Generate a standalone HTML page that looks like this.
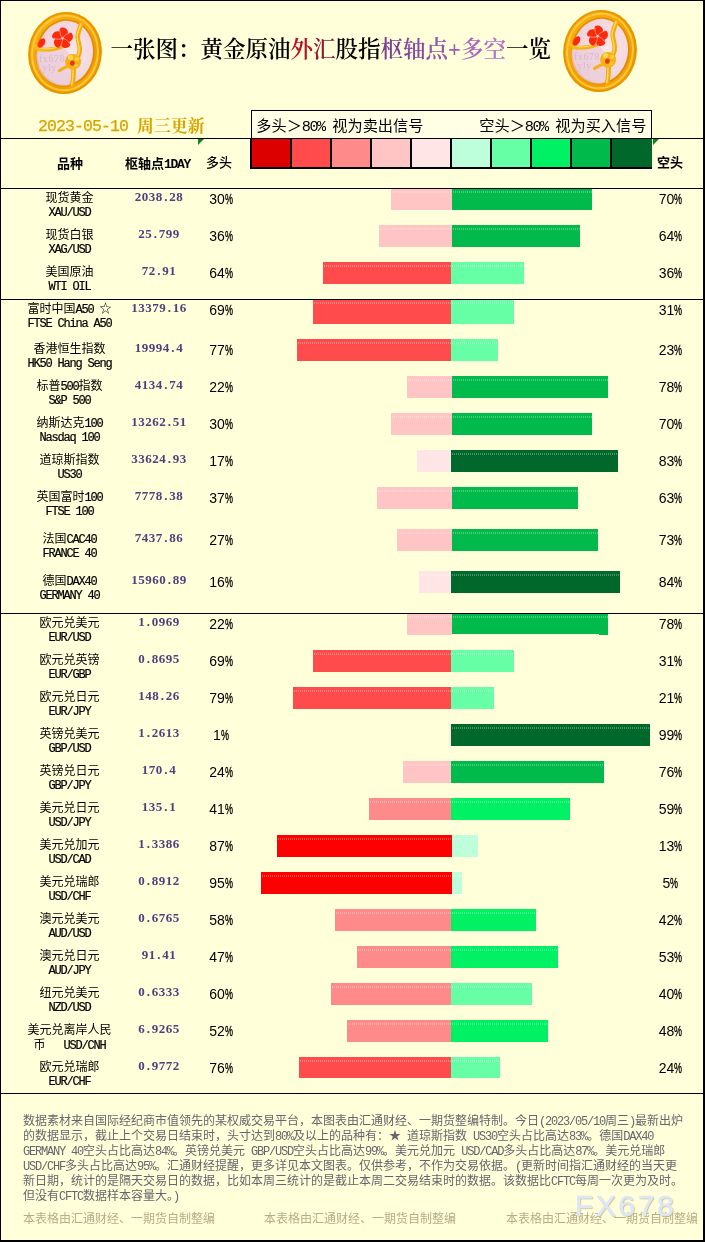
<!DOCTYPE html>
<html lang="zh-CN">
<head>
<meta charset="utf-8">
<title>一张图：黄金原油外汇股指枢轴点+多空一览</title>
<style>
html,body{margin:0;padding:0;}
body{width:705px;height:1242px;overflow:hidden;background:#FFFFD9;position:relative;
 font-family:"Liberation Sans","Noto Sans CJK SC",sans-serif;color:#000;}
#page{position:absolute;left:0;top:0;width:705px;height:1242px;overflow:hidden;background:#FFFFD9;}
#frame{position:absolute;left:0;top:0;width:702px;height:1239px;border-left:1px solid #000;border-top:1px solid #000;border-right:2px solid #000;border-bottom:2px solid #000;box-sizing:content-box;}
.hl{position:absolute;left:0;width:704px;height:1px;background:#000;z-index:3;}
.a{font-family:"Liberation Mono",monospace;letter-spacing:-0.1em;}
.bar,.nb{position:absolute;}
.bar::after{content:"";position:absolute;left:1px;right:0;top:3px;height:2px;
 background-image:repeating-linear-gradient(90deg,rgba(255,255,255,.28) 0 1px,transparent 1px 2px);}
.cn,.en,.pv,.pl,.pr,.hd,.nl{position:absolute;white-space:nowrap;text-align:center;}
.cn{left:-1px;width:141px;font-size:12px;line-height:14px;}
.en{left:-1px;width:141px;white-space:pre;font-size:12px;line-height:12px;}
.cn .a,.en .a{-webkit-text-stroke:0.2px #000;}
.pv{left:109px;width:100px;font-size:13px;line-height:14px;font-weight:bold;color:#50407E;font-family:"Liberation Serif",serif;letter-spacing:0.5px;}
.pv u{display:inline-block;width:6.5px;text-align:center;text-decoration:none;}
.pl{left:190px;width:62px;font-size:14px;line-height:16px;}
.pr{left:639.5px;width:62px;font-size:14px;line-height:16px;}
.pc{display:inline-block;width:8px;text-align:left;}
.pc i{display:inline-block;font-style:normal;transform:scaleX(.64);transform-origin:0 50%;-webkit-text-stroke:0.35px #000;}
.hd{font-weight:bold;font-size:13px;line-height:14px;}
.hd .a{font-family:"Liberation Mono",monospace;letter-spacing:-1.3px;font-size:13px;}
#sws{position:absolute;left:250px;top:139px;width:402px;height:30px;background:#000;}
#sws i{position:absolute;top:0;height:28px;display:block;}
.tri{position:absolute;top:139px;width:0;height:0;border-top:6px solid #0B8A10;border-right:6px solid transparent;}
#legend{position:absolute;left:251px;top:110px;width:399px;height:27px;background:#FFFFE6;border:1px solid #000;border-bottom:none;box-sizing:content-box;}
#legend span.t{position:absolute;top:6px;font-size:15.2px;line-height:18px;white-space:nowrap;}
#title{position:absolute;left:110.5px;top:35px;white-space:nowrap;font-family:"Liberation Serif","Noto Serif CJK SC",serif;font-weight:600;font-size:22.5px;line-height:30px;}
#date{position:absolute;left:38px;top:117px;white-space:nowrap;color:#D9A300;font-family:"Liberation Mono","Noto Serif CJK SC",monospace;font-size:16.9px;line-height:20px;font-weight:500;}
#date .a{font-size:16.5px;letter-spacing:-0.9px;font-weight:400;-webkit-text-stroke:0.25px #D9A300;}
#date b{font-weight:700;position:relative;top:0.5px;}
.nl{left:23px;text-align:left;font-size:12px;line-height:15px;color:#66666E;}
.ft{position:absolute;top:1212px;font-size:12px;line-height:14px;color:#B9AC85;white-space:nowrap;}
#wm{position:absolute;left:574.8px;top:1190px;font-size:30.2px;line-height:32px;letter-spacing:2.5px;-webkit-text-stroke:0.5px #DCE7F7;color:#DCE7F7;font-family:"Liberation Sans",sans-serif;text-shadow:1px 1px 1px rgba(190,160,110,.7);white-space:nowrap;}
.medal{position:absolute;}
</style>
</head>
<body>
<div id="page">
<svg class="medal" style="left:19.5px;top:4.5px" width="90" height="96" viewBox="-45 -48 90 96">
<defs>
<radialGradient id="mga" cx="0.62" cy="0.45" r="0.7"><stop offset="0" stop-color="#F8E6E9"/><stop offset="0.55" stop-color="#F4D9DF"/><stop offset="1" stop-color="#EECCD6"/></radialGradient>
<linearGradient id="rga" x1="0" y1="0" x2="1" y2="1"><stop offset="0" stop-color="#FAB61C"/><stop offset="0.35" stop-color="#F5A60A"/><stop offset="0.7" stop-color="#F09C02"/><stop offset="1" stop-color="#F8B218"/></linearGradient>
<filter id="bla" x="-10%" y="-10%" width="120%" height="120%"><feGaussianBlur stdDeviation="0.6"/></filter>
</defs>
<g filter="url(#bla)">
<ellipse cx="0" cy="0" rx="36.8" ry="41.2" fill="url(#rga)" transform="rotate(9)"/>
<ellipse cx="0" cy="0" rx="35.6" ry="40" fill="none" stroke="#E48E00" stroke-width="1.6" transform="rotate(9)" opacity=".8"/>
<ellipse cx="0" cy="0" rx="32.8" ry="37.4" fill="none" stroke="#FFCE3C" stroke-width="2" transform="rotate(9)" opacity=".85"/>
<ellipse cx="0.3" cy="0" rx="29.4" ry="33.8" fill="#E48C00" transform="rotate(9)"/>
<ellipse cx="0.3" cy="-0.3" rx="27.6" ry="32" fill="url(#mga)" transform="rotate(9)"/>
<path d="M-28,-3 C-20,-1.5 -10,-3 -3,-6 C2,-3 6,2 8,8 C9,16 9,24 7,31 C-4,36 -20,30 -26,16 C-29,8 -29,2 -28,-3 Z" fill="#E9CEDB" opacity=".75"/>
<path d="M16.5,-30 C15,-24 12,-20 12.8,-14.5 C13.6,-9 15.6,-6 14.6,-1 C13.6,4 10,8 9,14 C8,20 9,26 7,32" fill="none" stroke="#F4AA0A" stroke-width="4.6" stroke-linecap="round"/>
<path d="M16,-29.5 C14.5,-24 11.4,-20 12.2,-14.5 C13,-9 15,-6 14,-1 C13,4 9.4,8 8.4,14 C7.4,20 8.4,26 6.6,31.5" fill="none" stroke="#FFD84C" stroke-width="1.5" stroke-linecap="round"/>
<path d="M-27,-4.4 C-20,-2.4 -11,-3.6 -3,-6.4" fill="none" stroke="#F6B012" stroke-width="3.8" stroke-linecap="round"/>
<path d="M-26,-5 C-19,-3.4 -11,-4.4 -4,-7" fill="none" stroke="#FFDC5A" stroke-width="1.1" stroke-linecap="round"/>
<path d="M-5.5,17.5 C-1,14.5 3,13 8,11" fill="none" stroke="#F6B012" stroke-width="3.2" stroke-linecap="round"/>
<path d="M8.6,8.4 m-8.4,0.5 c0,-4 3,-7.5 6.8,-7.9 c4.4,-0.6 8.8,2.4 9,7 c0.3,4.4 -2.6,8.2 -7,8.6 c-4.6,0.4 -8.6,-3 -8.8,-7.7 z" fill="#F7B214"/>
<circle cx="5.6" cy="4.6" r="2.6" fill="#FFD94E"/>
<circle cx="12" cy="6" r="2.1" fill="#FFD040"/>
<circle cx="11" cy="12.4" r="1.8" fill="#FFCB36"/>
<ellipse cx="7.4" cy="10.2" rx="2.3" ry="2.6" fill="#F03414"/>
<circle cx="-2.5" cy="-14.7" r="8.6" fill="#FBE4E0" opacity=".7"/>
<g transform="translate(-2.5,-14.7)" fill="#FB2A0C"><path d="M0,-0.6 C-3.4,-3 -5.6,-6.4 -3.6,-9.8 C-1.2,-11.6 3.6,-10.6 4.6,-6.6 C4.8,-4 2.6,-1.6 0,-0.6 Z" transform="rotate(8)"/><path d="M0,-0.6 C-3.4,-3 -5.6,-6.4 -3.6,-9.8 C-1.2,-11.6 3.6,-10.6 4.6,-6.6 C4.8,-4 2.6,-1.6 0,-0.6 Z" transform="rotate(80)"/><path d="M0,-0.6 C-3.4,-3 -5.6,-6.4 -3.6,-9.8 C-1.2,-11.6 3.6,-10.6 4.6,-6.6 C4.8,-4 2.6,-1.6 0,-0.6 Z" transform="rotate(152)"/><path d="M0,-0.6 C-3.4,-3 -5.6,-6.4 -3.6,-9.8 C-1.2,-11.6 3.6,-10.6 4.6,-6.6 C4.8,-4 2.6,-1.6 0,-0.6 Z" transform="rotate(224)"/><path d="M0,-0.6 C-3.4,-3 -5.6,-6.4 -3.6,-9.8 C-1.2,-11.6 3.6,-10.6 4.6,-6.6 C4.8,-4 2.6,-1.6 0,-0.6 Z" transform="rotate(296)"/><g fill="none" stroke="#FFD2C4" stroke-width="0.7" opacity=".8"><path d="M0,0 C1.6,-3 4.6,-4.6 7.4,-5.4"/><path d="M0,0 C3.4,0.6 5.8,3 7.4,5.6"/><path d="M0,0 C0.4,3.4 -1.2,6.4 -3,8.8"/><path d="M0,0 C-3,1.6 -6.4,1 -9,-0.2"/><path d="M0,0 C-2.2,-2.6 -2.8,-6 -2.6,-9"/></g><circle cx="0" cy="0" r="1.2" fill="#FFC8B8"/></g>
<path d="M-29.6,-8.6 C-29.4,-3.6 -26,-1.6 -21.6,-3" fill="none" stroke="#F9B81A" stroke-width="2.6"/>
<ellipse cx="-23.4" cy="-10" rx="3.1" ry="5.2" fill="#FB2A0C" transform="rotate(30 -23.4 -10)"/>
</g>
<text x="-26" y="9" font-family="Liberation Serif, serif" font-size="9.6" letter-spacing="0.7" fill="#D9B0C4" opacity=".8">fx678</text>
<text x="-22.5" y="18.4" font-family="Liberation Serif, serif" font-size="9.6" letter-spacing="0.7" fill="#D9B0C4" opacity=".8">yly</text>
</svg>
<svg class="medal" style="left:554.5px;top:3px" width="90" height="96" viewBox="-45 -48 90 96">
<defs>
<radialGradient id="mgb" cx="0.62" cy="0.45" r="0.7"><stop offset="0" stop-color="#F8E6E9"/><stop offset="0.55" stop-color="#F4D9DF"/><stop offset="1" stop-color="#EECCD6"/></radialGradient>
<linearGradient id="rgb" x1="0" y1="0" x2="1" y2="1"><stop offset="0" stop-color="#FAB61C"/><stop offset="0.35" stop-color="#F5A60A"/><stop offset="0.7" stop-color="#F09C02"/><stop offset="1" stop-color="#F8B218"/></linearGradient>
<filter id="blb" x="-10%" y="-10%" width="120%" height="120%"><feGaussianBlur stdDeviation="0.6"/></filter>
</defs>
<g filter="url(#blb)">
<ellipse cx="0" cy="0" rx="36.8" ry="41.2" fill="url(#rgb)" transform="rotate(9)"/>
<ellipse cx="0" cy="0" rx="35.6" ry="40" fill="none" stroke="#E48E00" stroke-width="1.6" transform="rotate(9)" opacity=".8"/>
<ellipse cx="0" cy="0" rx="32.8" ry="37.4" fill="none" stroke="#FFCE3C" stroke-width="2" transform="rotate(9)" opacity=".85"/>
<ellipse cx="0.3" cy="0" rx="29.4" ry="33.8" fill="#E48C00" transform="rotate(9)"/>
<ellipse cx="0.3" cy="-0.3" rx="27.6" ry="32" fill="url(#mgb)" transform="rotate(9)"/>
<path d="M-28,-3 C-20,-1.5 -10,-3 -3,-6 C2,-3 6,2 8,8 C9,16 9,24 7,31 C-4,36 -20,30 -26,16 C-29,8 -29,2 -28,-3 Z" fill="#E9CEDB" opacity=".75"/>
<path d="M16.5,-30 C15,-24 12,-20 12.8,-14.5 C13.6,-9 15.6,-6 14.6,-1 C13.6,4 10,8 9,14 C8,20 9,26 7,32" fill="none" stroke="#F4AA0A" stroke-width="4.6" stroke-linecap="round"/>
<path d="M16,-29.5 C14.5,-24 11.4,-20 12.2,-14.5 C13,-9 15,-6 14,-1 C13,4 9.4,8 8.4,14 C7.4,20 8.4,26 6.6,31.5" fill="none" stroke="#FFD84C" stroke-width="1.5" stroke-linecap="round"/>
<path d="M-27,-4.4 C-20,-2.4 -11,-3.6 -3,-6.4" fill="none" stroke="#F6B012" stroke-width="3.8" stroke-linecap="round"/>
<path d="M-26,-5 C-19,-3.4 -11,-4.4 -4,-7" fill="none" stroke="#FFDC5A" stroke-width="1.1" stroke-linecap="round"/>
<path d="M-5.5,17.5 C-1,14.5 3,13 8,11" fill="none" stroke="#F6B012" stroke-width="3.2" stroke-linecap="round"/>
<path d="M8.6,8.4 m-8.4,0.5 c0,-4 3,-7.5 6.8,-7.9 c4.4,-0.6 8.8,2.4 9,7 c0.3,4.4 -2.6,8.2 -7,8.6 c-4.6,0.4 -8.6,-3 -8.8,-7.7 z" fill="#F7B214"/>
<circle cx="5.6" cy="4.6" r="2.6" fill="#FFD94E"/>
<circle cx="12" cy="6" r="2.1" fill="#FFD040"/>
<circle cx="11" cy="12.4" r="1.8" fill="#FFCB36"/>
<ellipse cx="7.4" cy="10.2" rx="2.3" ry="2.6" fill="#F03414"/>
<circle cx="-2.5" cy="-14.7" r="8.6" fill="#FBE4E0" opacity=".7"/>
<g transform="translate(-2.5,-14.7)" fill="#FB2A0C"><path d="M0,-0.6 C-3.4,-3 -5.6,-6.4 -3.6,-9.8 C-1.2,-11.6 3.6,-10.6 4.6,-6.6 C4.8,-4 2.6,-1.6 0,-0.6 Z" transform="rotate(8)"/><path d="M0,-0.6 C-3.4,-3 -5.6,-6.4 -3.6,-9.8 C-1.2,-11.6 3.6,-10.6 4.6,-6.6 C4.8,-4 2.6,-1.6 0,-0.6 Z" transform="rotate(80)"/><path d="M0,-0.6 C-3.4,-3 -5.6,-6.4 -3.6,-9.8 C-1.2,-11.6 3.6,-10.6 4.6,-6.6 C4.8,-4 2.6,-1.6 0,-0.6 Z" transform="rotate(152)"/><path d="M0,-0.6 C-3.4,-3 -5.6,-6.4 -3.6,-9.8 C-1.2,-11.6 3.6,-10.6 4.6,-6.6 C4.8,-4 2.6,-1.6 0,-0.6 Z" transform="rotate(224)"/><path d="M0,-0.6 C-3.4,-3 -5.6,-6.4 -3.6,-9.8 C-1.2,-11.6 3.6,-10.6 4.6,-6.6 C4.8,-4 2.6,-1.6 0,-0.6 Z" transform="rotate(296)"/><g fill="none" stroke="#FFD2C4" stroke-width="0.7" opacity=".8"><path d="M0,0 C1.6,-3 4.6,-4.6 7.4,-5.4"/><path d="M0,0 C3.4,0.6 5.8,3 7.4,5.6"/><path d="M0,0 C0.4,3.4 -1.2,6.4 -3,8.8"/><path d="M0,0 C-3,1.6 -6.4,1 -9,-0.2"/><path d="M0,0 C-2.2,-2.6 -2.8,-6 -2.6,-9"/></g><circle cx="0" cy="0" r="1.2" fill="#FFC8B8"/></g>
<path d="M-29.6,-8.6 C-29.4,-3.6 -26,-1.6 -21.6,-3" fill="none" stroke="#F9B81A" stroke-width="2.6"/>
<ellipse cx="-23.4" cy="-10" rx="3.1" ry="5.2" fill="#FB2A0C" transform="rotate(30 -23.4 -10)"/>
</g>
<text x="-26" y="9" font-family="Liberation Serif, serif" font-size="9.6" letter-spacing="0.7" fill="#D9B0C4" opacity=".8">fx678</text>
<text x="-22.5" y="18.4" font-family="Liberation Serif, serif" font-size="9.6" letter-spacing="0.7" fill="#D9B0C4" opacity=".8">yly</text>
</svg>
<div id="title">一张图：黄金原油<span style="color:#B4122A">外</span><span style="color:#8E1C38">汇</span>股指<span style="color:#7B3F98">枢</span><span style="color:#8848A4">轴</span><span style="color:#9654AE">点</span><span style="color:#A05CB6">+</span><span style="color:#AC66BE">多</span><span style="color:#B674C6">空</span>一览</div>
<div id="date"><span class="a">2023-05-10 </span><b>周三更新</b></div>
<div class="hl" style="top:138px"></div>
<div class="hl" style="top:188px"></div>
<div class="hl" style="top:299px"></div>
<div class="hl" style="top:613px"></div>
<div class="hl" style="top:1093px"></div>
<div id="legend"><span class="t" style="left:4.3px">多头＞<span class="a">80% </span>视为卖出信号</span><span class="t" style="left:227.3px">空头＞<span class="a">80% </span>视为买入信号</span></div>
<div id="sws"><i style="left:2px;width:38px;background:#DD0000"></i><i style="left:42px;width:38px;background:#FF4B4B"></i><i style="left:82px;width:38px;background:#FF8A8A"></i><i style="left:122px;width:38px;background:#FFC4C4"></i><i style="left:162px;width:38px;background:#FFE5E5"></i><i style="left:202px;width:38px;background:#BDFFDA"></i><i style="left:242px;width:38px;background:#66FFA5"></i><i style="left:282px;width:38px;background:#00F264"></i><i style="left:322px;width:38px;background:#00BB4B"></i><i style="left:362px;width:40px;background:#00682A"></i></div>
<div class="tri" style="left:198px"></div>
<div class="tri" style="left:653px"></div>
<div class="hd" style="left:40px;width:60px;top:157px">品种</div>
<div class="hd" style="left:125px;text-align:left;top:157px">枢轴点<span class="a">1DAY</span></div>
<div class="hd" style="left:188px;width:62px;top:156px;font-weight:500">多头</div>
<div class="hd" style="left:639px;width:62px;top:156px;font-weight:700">空头</div>
<div class="bar" style="left:391px;top:188px;width:61px;height:22px;background:#FFC4C4"></div>
<div class="bar" style="left:452px;top:188px;width:140px;height:22px;background:#00BB4B"></div>
<div class="cn" style="top:191px">现货黄金</div>
<div class="en" style="top:206px"><span class="a">XAU/USD</span></div>
<div class="pv" style="top:190px">2038<u>.</u>28</div>
<div class="pl" style="top:191px">30<span class="pc"><i>%</i></span></div>
<div class="pr" style="top:191px">70<span class="pc"><i>%</i></span></div>
<div class="bar" style="left:379px;top:225px;width:73px;height:22px;background:#FFC4C4"></div>
<div class="bar" style="left:452px;top:225px;width:128px;height:22px;background:#00BB4B"></div>
<div class="cn" style="top:228px">现货白银</div>
<div class="en" style="top:243px"><span class="a">XAG/USD</span></div>
<div class="pv" style="top:227px">25<u>.</u>799</div>
<div class="pl" style="top:228px">36<span class="pc"><i>%</i></span></div>
<div class="pr" style="top:228px">64<span class="pc"><i>%</i></span></div>
<div class="bar" style="left:323px;top:262px;width:128px;height:22px;background:#FF4B4B"></div>
<div class="bar" style="left:451px;top:262px;width:73px;height:22px;background:#66FFA5"></div>
<div class="cn" style="top:265px">美国原油</div>
<div class="en" style="top:280px"><span class="a">WTI OIL</span></div>
<div class="pv" style="top:264px">72<u>.</u>91</div>
<div class="pl" style="top:265px">64<span class="pc"><i>%</i></span></div>
<div class="pr" style="top:265px">36<span class="pc"><i>%</i></span></div>
<div class="bar" style="left:313px;top:299px;width:138px;height:25px;background:#FF4B4B"></div>
<div class="bar" style="left:451px;top:299px;width:63px;height:25px;background:#66FFA5"></div>
<div class="cn" style="top:302px">富时中国<span class="a">A50 </span>☆</div>
<div class="en" style="top:317px"><span class="a">FTSE China A50</span></div>
<div class="pv" style="top:301px">13379<u>.</u>16</div>
<div class="pl" style="top:302px">69<span class="pc"><i>%</i></span></div>
<div class="pr" style="top:302px">31<span class="pc"><i>%</i></span></div>
<div class="bar" style="left:297px;top:339px;width:154px;height:22px;background:#FF4B4B"></div>
<div class="bar" style="left:451px;top:339px;width:47px;height:22px;background:#66FFA5"></div>
<div class="cn" style="top:342px">香港恒生指数</div>
<div class="en" style="top:357px"><span class="a">HK50 Hang Seng</span></div>
<div class="pv" style="top:341px">19994<u>.</u>4</div>
<div class="pl" style="top:342px">77<span class="pc"><i>%</i></span></div>
<div class="pr" style="top:342px">23<span class="pc"><i>%</i></span></div>
<div class="bar" style="left:407px;top:376px;width:45px;height:22px;background:#FFC4C4"></div>
<div class="bar" style="left:452px;top:376px;width:156px;height:22px;background:#00BB4B"></div>
<div class="cn" style="top:379px">标普<span class="a">500</span>指数</div>
<div class="en" style="top:394px"><span class="a">S&amp;P 500</span></div>
<div class="pv" style="top:378px">4134<u>.</u>74</div>
<div class="pl" style="top:379px">22<span class="pc"><i>%</i></span></div>
<div class="pr" style="top:379px">78<span class="pc"><i>%</i></span></div>
<div class="bar" style="left:391px;top:413px;width:61px;height:22px;background:#FFC4C4"></div>
<div class="bar" style="left:452px;top:413px;width:140px;height:22px;background:#00BB4B"></div>
<div class="cn" style="top:416px">纳斯达克<span class="a">100</span></div>
<div class="en" style="top:431px"><span class="a">Nasdaq 100</span></div>
<div class="pv" style="top:415px">13262<u>.</u>51</div>
<div class="pl" style="top:416px">30<span class="pc"><i>%</i></span></div>
<div class="pr" style="top:416px">70<span class="pc"><i>%</i></span></div>
<div class="bar" style="left:417px;top:450px;width:34px;height:22px;background:#FFE5E5"></div>
<div class="bar" style="left:451px;top:450px;width:167px;height:22px;background:#00682A"></div>
<div class="cn" style="top:453px">道琼斯指数</div>
<div class="en" style="top:468px"><span class="a">US30</span></div>
<div class="pv" style="top:452px">33624<u>.</u>93</div>
<div class="pl" style="top:453px">17<span class="pc"><i>%</i></span></div>
<div class="pr" style="top:453px">83<span class="pc"><i>%</i></span></div>
<div class="bar" style="left:377px;top:487px;width:75px;height:22px;background:#FFC4C4"></div>
<div class="bar" style="left:452px;top:487px;width:126px;height:22px;background:#00BB4B"></div>
<div class="cn" style="top:490px">英国富时<span class="a">100</span></div>
<div class="en" style="top:505px"><span class="a">FTSE 100</span></div>
<div class="pv" style="top:489px">7778<u>.</u>38</div>
<div class="pl" style="top:490px">37<span class="pc"><i>%</i></span></div>
<div class="pr" style="top:490px">63<span class="pc"><i>%</i></span></div>
<div class="bar" style="left:397px;top:529px;width:55px;height:22px;background:#FFC4C4"></div>
<div class="bar" style="left:452px;top:529px;width:146px;height:22px;background:#00BB4B"></div>
<div class="cn" style="top:532px">法国<span class="a">CAC40</span></div>
<div class="en" style="top:547px"><span class="a">FRANCE 40</span></div>
<div class="pv" style="top:531px">7437<u>.</u>86</div>
<div class="pl" style="top:532px">27<span class="pc"><i>%</i></span></div>
<div class="pr" style="top:532px">73<span class="pc"><i>%</i></span></div>
<div class="bar" style="left:419px;top:571px;width:32px;height:22px;background:#FFE5E5"></div>
<div class="bar" style="left:451px;top:571px;width:169px;height:22px;background:#00682A"></div>
<div class="cn" style="top:574px">德国<span class="a">DAX40</span></div>
<div class="en" style="top:589px"><span class="a">GERMANY 40</span></div>
<div class="pv" style="top:573px">15960<u>.</u>89</div>
<div class="pl" style="top:574px">16<span class="pc"><i>%</i></span></div>
<div class="pr" style="top:574px">84<span class="pc"><i>%</i></span></div>
<div class="bar" style="left:407px;top:613px;width:45px;height:22px;background:#FFC4C4"></div>
<div class="bar" style="left:452px;top:613px;width:156px;height:21px;background:#00BB4B"></div>
<div class="nb" style="left:599px;top:634px;width:9px;height:1px;background:#00BB4B"></div>
<div class="cn" style="top:616px">欧元兑美元</div>
<div class="en" style="top:631px"><span class="a">EUR/USD</span></div>
<div class="pv" style="top:615px">1<u>.</u>0969</div>
<div class="pl" style="top:616px">22<span class="pc"><i>%</i></span></div>
<div class="pr" style="top:616px">78<span class="pc"><i>%</i></span></div>
<div class="bar" style="left:313px;top:650px;width:138px;height:22px;background:#FF4B4B"></div>
<div class="bar" style="left:451px;top:650px;width:63px;height:22px;background:#66FFA5"></div>
<div class="cn" style="top:653px">欧元兑英镑</div>
<div class="en" style="top:668px"><span class="a">EUR/GBP</span></div>
<div class="pv" style="top:652px">0<u>.</u>8695</div>
<div class="pl" style="top:653px">69<span class="pc"><i>%</i></span></div>
<div class="pr" style="top:653px">31<span class="pc"><i>%</i></span></div>
<div class="bar" style="left:293px;top:687px;width:158px;height:22px;background:#FF4B4B"></div>
<div class="bar" style="left:451px;top:687px;width:43px;height:22px;background:#66FFA5"></div>
<div class="cn" style="top:690px">欧元兑日元</div>
<div class="en" style="top:705px"><span class="a">EUR/JPY</span></div>
<div class="pv" style="top:689px">148<u>.</u>26</div>
<div class="pl" style="top:690px">79<span class="pc"><i>%</i></span></div>
<div class="pr" style="top:690px">21<span class="pc"><i>%</i></span></div>
<div class="bar" style="left:449px;top:724px;width:2px;height:22px;background:#FFE5E5"></div>
<div class="bar" style="left:451px;top:724px;width:199px;height:22px;background:#00682A"></div>
<div class="cn" style="top:727px">英镑兑美元</div>
<div class="en" style="top:742px"><span class="a">GBP/USD</span></div>
<div class="pv" style="top:726px">1<u>.</u>2613</div>
<div class="pl" style="top:727px">1<span class="pc"><i>%</i></span></div>
<div class="pr" style="top:727px">99<span class="pc"><i>%</i></span></div>
<div class="bar" style="left:403px;top:761px;width:48px;height:22px;background:#FFC4C4"></div>
<div class="bar" style="left:451px;top:761px;width:153px;height:22px;background:#00BB4B"></div>
<div class="cn" style="top:764px">英镑兑日元</div>
<div class="en" style="top:779px"><span class="a">GBP/JPY</span></div>
<div class="pv" style="top:763px">170<u>.</u>4</div>
<div class="pl" style="top:764px">24<span class="pc"><i>%</i></span></div>
<div class="pr" style="top:764px">76<span class="pc"><i>%</i></span></div>
<div class="bar" style="left:369px;top:798px;width:82px;height:22px;background:#FF8A8A"></div>
<div class="bar" style="left:451px;top:798px;width:119px;height:22px;background:#00F264"></div>
<div class="cn" style="top:801px">美元兑日元</div>
<div class="en" style="top:816px"><span class="a">USD/JPY</span></div>
<div class="pv" style="top:800px">135<u>.</u>1</div>
<div class="pl" style="top:801px">41<span class="pc"><i>%</i></span></div>
<div class="pr" style="top:801px">59<span class="pc"><i>%</i></span></div>
<div class="bar" style="left:277px;top:835px;width:175px;height:22px;background:#FF0000"></div>
<div class="bar" style="left:452px;top:835px;width:26px;height:22px;background:#BDFFDA"></div>
<div class="cn" style="top:838px">美元兑加元</div>
<div class="en" style="top:853px"><span class="a">USD/CAD</span></div>
<div class="pv" style="top:837px">1<u>.</u>3386</div>
<div class="pl" style="top:838px">87<span class="pc"><i>%</i></span></div>
<div class="pr" style="top:838px">13<span class="pc"><i>%</i></span></div>
<div class="bar" style="left:261px;top:872px;width:191px;height:22px;background:#FF0000"></div>
<div class="bar" style="left:452px;top:872px;width:10px;height:22px;background:#BDFFDA"></div>
<div class="cn" style="top:875px">美元兑瑞郎</div>
<div class="en" style="top:890px"><span class="a">USD/CHF</span></div>
<div class="pv" style="top:874px">0<u>.</u>8912</div>
<div class="pl" style="top:875px">95<span class="pc"><i>%</i></span></div>
<div class="pr" style="top:875px">5<span class="pc"><i>%</i></span></div>
<div class="bar" style="left:335px;top:909px;width:116px;height:22px;background:#FF8A8A"></div>
<div class="bar" style="left:451px;top:909px;width:85px;height:22px;background:#00F264"></div>
<div class="cn" style="top:912px">澳元兑美元</div>
<div class="en" style="top:927px"><span class="a">AUD/USD</span></div>
<div class="pv" style="top:911px">0<u>.</u>6765</div>
<div class="pl" style="top:912px">58<span class="pc"><i>%</i></span></div>
<div class="pr" style="top:912px">42<span class="pc"><i>%</i></span></div>
<div class="bar" style="left:357px;top:946px;width:94px;height:22px;background:#FF8A8A"></div>
<div class="bar" style="left:451px;top:946px;width:107px;height:22px;background:#00F264"></div>
<div class="cn" style="top:949px">澳元兑日元</div>
<div class="en" style="top:964px"><span class="a">AUD/JPY</span></div>
<div class="pv" style="top:948px">91<u>.</u>41</div>
<div class="pl" style="top:949px">47<span class="pc"><i>%</i></span></div>
<div class="pr" style="top:949px">53<span class="pc"><i>%</i></span></div>
<div class="bar" style="left:331px;top:983px;width:120px;height:22px;background:#FF8A8A"></div>
<div class="bar" style="left:451px;top:983px;width:81px;height:22px;background:#66FFA5"></div>
<div class="cn" style="top:986px">纽元兑美元</div>
<div class="en" style="top:1001px"><span class="a">NZD/USD</span></div>
<div class="pv" style="top:985px">0<u>.</u>6333</div>
<div class="pl" style="top:986px">60<span class="pc"><i>%</i></span></div>
<div class="pr" style="top:986px">40<span class="pc"><i>%</i></span></div>
<div class="bar" style="left:347px;top:1020px;width:104px;height:22px;background:#FF8A8A"></div>
<div class="bar" style="left:451px;top:1020px;width:97px;height:22px;background:#00F264"></div>
<div class="cn" style="top:1023px">美元兑离岸人民</div>
<div class="en" style="top:1039px">币<span class="a">   USD/CNH</span></div>
<div class="pv" style="top:1022px">6<u>.</u>9265</div>
<div class="pl" style="top:1023px">52<span class="pc"><i>%</i></span></div>
<div class="pr" style="top:1023px">48<span class="pc"><i>%</i></span></div>
<div class="bar" style="left:299px;top:1057px;width:152px;height:21px;background:#FF4B4B"></div>
<div class="bar" style="left:451px;top:1057px;width:49px;height:21px;background:#66FFA5"></div>
<div class="cn" style="top:1060px">欧元兑瑞郎</div>
<div class="en" style="top:1075px"><span class="a">EUR/CHF</span></div>
<div class="pv" style="top:1059px">0<u>.</u>9772</div>
<div class="pl" style="top:1060px">76<span class="pc"><i>%</i></span></div>
<div class="pr" style="top:1060px">24<span class="pc"><i>%</i></span></div>
<div class="nl" style="top:1114px">数据素材来自国际经纪商市值领先的某权威交易平台，本图表由汇通财经、一期货整编特制。今日<span class="a">(2023/05/10</span>周三<span class="a">)</span>最新出炉</div>
<div class="nl" style="top:1129px">的数据显示，截止上个交易日结束时，头寸达到<span class="a">80%</span>及以上的品种有：★<span class="a"> </span>道琼斯指数<span class="a"> US30</span>空头占比高达<span class="a">83%</span>。德国<span class="a">DAX40</span></div>
<div class="nl" style="top:1144px"><span class="a">GERMANY 40</span>空头占比高达<span class="a">84%</span>。英镑兑美元<span class="a"> GBP/USD</span>空头占比高达<span class="a">99%</span>。美元兑加元<span class="a"> USD/CAD</span>多头占比高达<span class="a">87%</span>。美元兑瑞郎</div>
<div class="nl" style="top:1159px"><span class="a">USD/CHF</span>多头占比高达<span class="a">95%</span>。汇通财经提醒，更多详见本文图表。仅供参考，不作为交易依据。<span class="a">(</span>更新时间指汇通财经的当天更</div>
<div class="nl" style="top:1174px">新日期，统计的是隔天交易日的数据，比如本周三统计的是截止本周二交易结束时的数据。该数据比<span class="a">CFTC</span>每周一次更为及时。</div>
<div class="nl" style="top:1189px">但没有<span class="a">CFTC</span>数据样本容量大。<span class="a">)</span></div>
<div class="ft" style="left:23px">本表格由汇通财经、一期货自制整编</div>
<div class="ft" style="left:264px">本表格由汇通财经、一期货自制整编</div>
<div class="ft" style="left:506px">本表格由汇通财经、一期货自制整编</div>
<div id="wm">FX678</div>
<div id="frame"></div>
</div>
</body>
</html>
